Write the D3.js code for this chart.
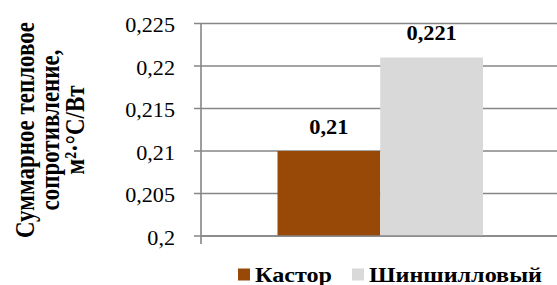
<!DOCTYPE html>
<html>
<head>
<meta charset="utf-8">
<script src="https://cdn.jsdelivr.net/npm/d3@7"></script>
<style>
  body { margin: 0; background: #fff; }
  svg { display: block; }
  text { font-family: "Liberation Serif", "Times New Roman", serif; fill: #000; }
</style>
</head>
<body>
<svg id="chart" width="557" height="285"></svg>
<script>
// данные
var series = ["Кастор", "Шиншилловый"];
var values = [0.21, 0.221];
var labels = ["0,21", "0,221"];
var colors = ["#984807", "#d9d9d9"];
var yTicks = [0.2, 0.205, 0.21, 0.215, 0.22, 0.225];
var yTitle = ["Суммарное тепловое", "сопротивление,", "м²·°С/Вт"];

var svg = d3.select("#chart");
var plotLeft = 201, plotRight = 557, plotTop = 23.5, plotBottom = 236;
var stretch = 1.12;   // текст в оригинале немного растянут по горизонтали

var y = d3.scaleLinear().domain([0.2, 0.225]).range([plotBottom, plotTop]);
var x = d3.scaleBand().domain(series).range([277.5, 483]).padding(0);

// сетка
svg.append("g")
  .selectAll("line")
  .data(yTicks)
  .enter()
  .append("line")
    .attr("x1", plotLeft - 7)
    .attr("x2", plotRight)
    .attr("y1", function(d){ return y(d); })
    .attr("y2", function(d){ return y(d); })
    .attr("stroke", "#868686")
    .attr("stroke-width", 1.6);

// столбцы
svg.append("g")
  .selectAll("rect")
  .data(values)
  .enter()
  .append("rect")
    .attr("x", function(d, i){ return x(series[i]); })
    .attr("y", function(d){ return y(d); })
    .attr("width", x.bandwidth())
    .attr("height", function(d){ return plotBottom - y(d); })
    .attr("fill", function(d, i){ return colors[i]; });

// ось Y
svg.append("line")
  .attr("x1", plotLeft).attr("x2", plotLeft)
  .attr("y1", plotTop).attr("y2", plotBottom + 8)
  .attr("stroke", "#868686")
  .attr("stroke-width", 1.6);
// ось X
svg.append("line")
  .attr("x1", plotLeft).attr("x2", plotRight)
  .attr("y1", plotBottom).attr("y2", plotBottom)
  .attr("stroke", "#868686")
  .attr("stroke-width", 1.6);

// подписи оси Y
svg.append("g")
  .selectAll("text")
  .data(yTicks)
  .enter()
  .append("text")
    .attr("transform", function(d){ return "translate(175," + (y(d) + 8.5) + ") scale(1.07,1)"; })
    .attr("text-anchor", "end")
    .style("font-size", "20.7px")
    .text(function(d){ return d3.format(".3~f")(d).replace(".", ","); });

// значения
svg.append("g")
  .selectAll("text")
  .data(values)
  .enter()
  .append("text")
    .attr("transform", function(d, i){
      return "translate(" + (x(series[i]) + x.bandwidth() / 2) + "," + (y(d) - 17.5) + ") scale(" + stretch + ",1)";
    })
    .attr("text-anchor", "middle")
    .style("font-size", "20px")
    .style("font-weight", "bold")
    .text(function(d, i){ return labels[i]; });

// заголовок оси Y
var title = svg.append("text")
  .attr("transform", "translate(34,130) scale(1.2,1) rotate(-90)")
  .attr("text-anchor", "middle")
  .style("font-size", "23px")
  .style("font-weight", "bold");
yTitle.forEach(function(t, i){
  title.append("tspan")
    .attr("x", 0)
    .attr("y", i * 20.8)
    .text(t);
});

// легенда
var legendX = [238, 352];
var legend = svg.append("g")
  .selectAll("g")
  .data(series)
  .enter()
  .append("g")
    .attr("transform", function(d, i){ return "translate(" + legendX[i] + ",268.5)"; });
legend.append("rect")
  .attr("width", 12)
  .attr("height", 12)
  .attr("fill", function(d, i){ return colors[i]; });
legend.append("text")
  .attr("transform", "translate(17,13.2) scale(" + (stretch + 0.03) + ",1)")
  .style("font-size", "21px")
  .style("font-weight", "bold")
  .text(function(d){ return d; });
</script>
</body>
</html>
